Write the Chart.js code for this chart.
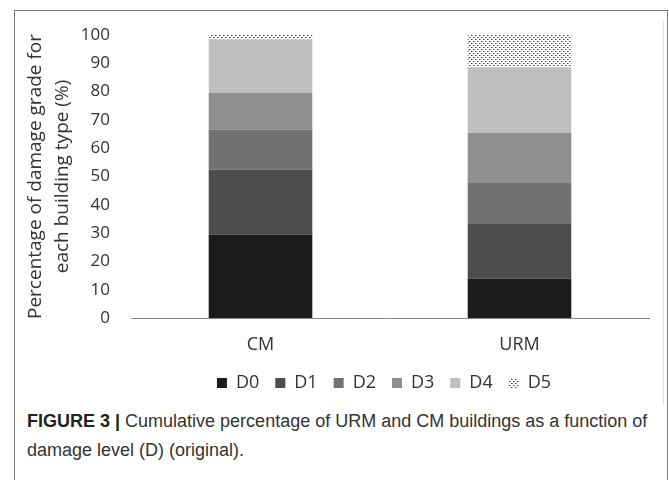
<!DOCTYPE html>
<html>
<head>
<meta charset="utf-8">
<script src="https://cdn.jsdelivr.net/npm/chart.js@4/dist/chart.umd.min.js"></script>
<style>
  html, body { margin: 0; padding: 0; background: #fff; }
  body { width: 669px; height: 480px; position: relative; overflow: hidden; }
  #frame { position: absolute; left: 14px; top: 10px; width: 652px; height: 480px; border: 1px solid #7a7a7a; border-bottom: none; }
  #inner { position: absolute; left: 663px; top: 20px; width: 0; height: 385px; border-left: 1px solid #e2e2e2; }
  #wrap { position: absolute; left: 15px; top: 11px; width: 647px; height: 395px; }
  #caption { position: absolute; left: 27px; top: 407px; width: 635px; font-family: "Liberation Sans", Arial, sans-serif; font-size: 18px; line-height: 29px; color: #333; letter-spacing: 0px; }
  #caption b { color: #222; }
</style>
</head>
<body>
<div id="frame"></div>
<div id="inner"></div>
<div id="wrap"><canvas id="c"></canvas></div>
<div id="caption"><b>FIGURE 3 |</b> Cumulative percentage of URM and CM buildings as a function of damage level (D) (original).</div>
<script>
const categories = ['CM', 'URM'];
const seriesNames = ['D0', 'D1', 'D2', 'D3', 'D4', 'D5'];
const D0 = [29.5, 14];
const D1 = [23, 19.5];
const D2 = [14, 14.5];
const D3 = [13, 17.5];
const D4 = [19, 23];
const D5 = [1.5, 11.5];
const yTicks = [0, 10, 20, 30, 40, 50, 60, 70, 80, 90, 100];

function dotPattern() {
  const t = document.createElement('canvas');
  t.width = 4; t.height = 4;
  const g = t.getContext('2d');
  g.fillStyle = '#ffffff'; g.fillRect(0, 0, 4, 4);
  g.fillStyle = '#3a3a3a';
  g.fillRect(0, 0, 1, 1);
  g.fillRect(2, 2, 1, 1);
  g.fillStyle = '#9a9a9a';
  g.fillRect(1, 0, 1, 1);
  g.fillRect(3, 2, 1, 1);
  return document.getElementById('c').getContext('2d').createPattern(t, 'repeat');
}

const colors = ['#1d1a1a', '#4d4d4d', '#727272', '#8f8f8f', '#bfbfbf', dotPattern()];
const values = [D0, D1, D2, D3, D4, D5];

const datasets = seriesNames.map((name, i) => ({
  label: name,
  data: values[i],
  backgroundColor: colors[i],
  borderWidth: 0,
  barPercentage: 0.4,
  categoryPercentage: 1.0
}));

const shiftLegend = {
  id: 'shiftLegend',
  afterLayout(chart) {
    if (chart.legend) { chart.legend.left -= 6; chart.legend.right -= 6; }
  }
};

const font = 'Open Sans';
new Chart(document.getElementById('c'), {
  type: 'bar',
  data: { labels: categories, datasets },
  plugins: [shiftLegend],
  options: {
    responsive: true,
    maintainAspectRatio: false,
    animation: false,
    layout: { padding: { top: 24, right: 13, bottom: 4, left: 0 } },
    plugins: {
      tooltip: { enabled: false },
      legend: {
        position: 'bottom',
        fullSize: false,
        labels: {
          boxWidth: 10, boxHeight: 10, padding: 16,
          color: '#333',
          font: { family: font, size: 18 }
        }
      }
    },
    scales: {
      x: {
        stacked: true,
        grid: { display: false },
        border: { display: true, color: '#8a8a8a', width: 1 },
        ticks: { color: '#333', font: { family: font, size: 18 }, padding: 8 },
        afterFit: (s) => { s.height = 40; }
      },
      y: {
        stacked: true,
        min: 0, max: 100,
        afterBuildTicks: (s) => { s.ticks = yTicks.map(v => ({ value: v })); },
        grid: { display: false, drawTicks: false },
        border: { display: false },
        ticks: { color: '#333', font: { family: font, size: 17 }, padding: 21 },
        title: {
          display: true,
          text: ['Percentage of damage grade for', 'each building type (%)'],
          color: '#333',
          font: { family: font, size: 19, lineHeight: 1.42 },
          padding: { top: 7, bottom: 0 }
        },
        afterFit: (s) => { s.width = 116; s.paddingTop = 0; s.paddingBottom = 0; }
      }
    }
  }
});
</script>
</body>
</html>
